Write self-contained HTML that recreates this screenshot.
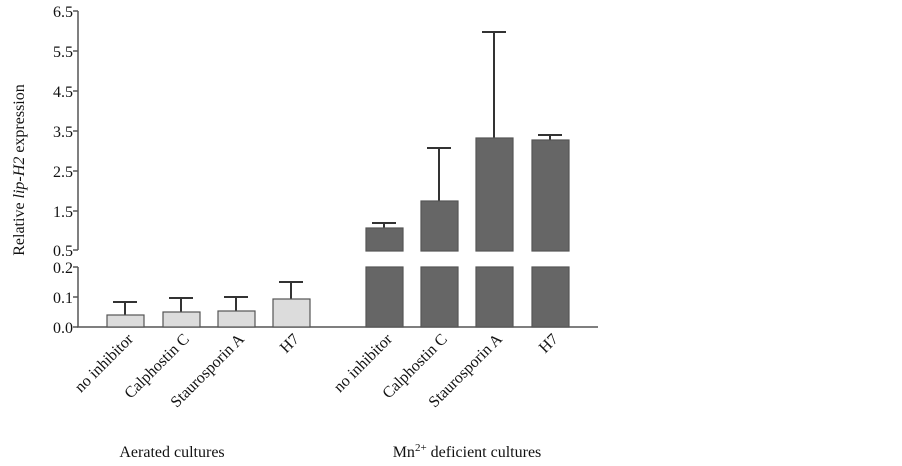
<!DOCTYPE html>
<html><head><style>body{margin:0;background:#fff}svg{display:block}text{font-family:"Liberation Serif",serif;fill:#111}</style></head>
<body>
<svg width="902" height="466" viewBox="0 0 902 466" xmlns="http://www.w3.org/2000/svg">
<g stroke="#555" stroke-width="1.5" fill="none">
<line x1="78" y1="11" x2="78" y2="250"/>
<line x1="78" y1="267" x2="78" y2="327"/>
<line x1="77" y1="327" x2="598" y2="327"/>
<line x1="73" y1="11" x2="78" y2="11"/><line x1="73" y1="51" x2="78" y2="51"/><line x1="73" y1="91" x2="78" y2="91"/><line x1="73" y1="131" x2="78" y2="131"/><line x1="73" y1="171" x2="78" y2="171"/><line x1="73" y1="211" x2="78" y2="211"/><line x1="73" y1="250" x2="78" y2="250"/>
<line x1="73" y1="267" x2="78" y2="267"/><line x1="73" y1="297" x2="78" y2="297"/><line x1="73" y1="327" x2="78" y2="327"/>
</g>
<g font-size="16" text-anchor="end">
<text x="73" y="17">6.5</text><text x="73" y="57">5.5</text><text x="73" y="97">4.5</text><text x="73" y="137">3.5</text><text x="73" y="177">2.5</text><text x="73" y="217">1.5</text><text x="73" y="256">0.5</text>
<text x="73" y="273">0.2</text><text x="73" y="303">0.1</text><text x="73" y="333">0.0</text>
</g>
<text font-size="16" transform="translate(24,170) rotate(-90)" text-anchor="middle">Relative <tspan font-style="italic">lip-H2</tspan> expression</text>
<g stroke="#333" stroke-width="2" fill="none">
<line x1="125" y1="315" x2="125" y2="302"/><line x1="113" y1="302" x2="137" y2="302"/>
<line x1="181" y1="312" x2="181" y2="298"/><line x1="169" y1="298" x2="193" y2="298"/>
<line x1="236" y1="311" x2="236" y2="297"/><line x1="224" y1="297" x2="248" y2="297"/>
<line x1="291" y1="299" x2="291" y2="282"/><line x1="279" y1="282" x2="303" y2="282"/>
<line x1="384" y1="228" x2="384" y2="223"/><line x1="372" y1="223" x2="396" y2="223"/>
<line x1="439" y1="201" x2="439" y2="148"/><line x1="427" y1="148" x2="451" y2="148"/>
<line x1="494" y1="138" x2="494" y2="32"/><line x1="482" y1="32" x2="506" y2="32"/>
<line x1="550" y1="140" x2="550" y2="135"/><line x1="538" y1="135" x2="562" y2="135"/>
</g>
<g fill="#dcdcdc" stroke="#555" stroke-width="1.2">
<rect x="107" y="315" width="37" height="12"/>
<rect x="163" y="312" width="37" height="15"/>
<rect x="218" y="311" width="37" height="16"/>
<rect x="273" y="299" width="37" height="28"/>
</g>
<g fill="#666" stroke="#555" stroke-width="1.2">
<rect x="366" y="228" width="37" height="23"/><rect x="366" y="267" width="37" height="60"/>
<rect x="421" y="201" width="37" height="50"/><rect x="421" y="267" width="37" height="60"/>
<rect x="476" y="138" width="37" height="113"/><rect x="476" y="267" width="37" height="60"/>
<rect x="532" y="140" width="37" height="111"/><rect x="532" y="267" width="37" height="60"/>
</g>
<g font-size="16" text-anchor="end">
<text transform="translate(134,340) rotate(-45)">no inhibitor</text>
<text transform="translate(190,340) rotate(-45)">Calphostin C</text>
<text transform="translate(245,340) rotate(-45)">Staurosporin A</text>
<text transform="translate(300,340) rotate(-45)">H7</text>
<text transform="translate(393,340) rotate(-45)">no inhibitor</text>
<text transform="translate(448,340) rotate(-45)">Calphostin C</text>
<text transform="translate(503,340) rotate(-45)">Staurosporin A</text>
<text transform="translate(559,340) rotate(-45)">H7</text>
</g>
<text font-size="16" x="172" y="457" text-anchor="middle">Aerated cultures</text>
<text font-size="16" x="467" y="457" text-anchor="middle">Mn<tspan font-size="11" dy="-6">2+</tspan><tspan dy="6"> deficient cultures</tspan></text>
</svg>
</body></html>
